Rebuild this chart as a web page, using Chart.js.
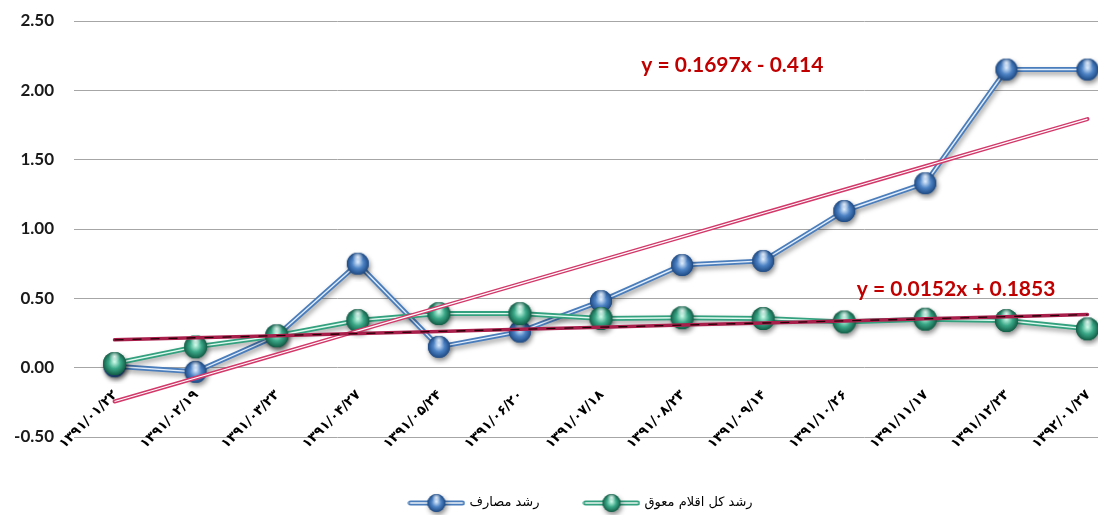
<!DOCTYPE html>
<html><head><meta charset="utf-8">
<script src="https://cdn.jsdelivr.net/npm/chart.js@4.4.1/dist/chart.umd.min.js"></script>
<style>
html,body{margin:0;padding:0;background:#fff;overflow:hidden;width:1098px;height:518px}
#wrap{position:relative;width:1140px;height:518px}
</style></head>
<body><div id="wrap"><canvas id="c" width="1140" height="518"></canvas></div>
<script>
// ---- data ----
const categories = ['۱۳۹۱/۰۱/۲۲','۱۳۹۱/۰۲/۱۹','۱۳۹۱/۰۳/۲۳','۱۳۹۱/۰۴/۲۷','۱۳۹۱/۰۵/۲۴','۱۳۹۱/۰۶/۲۰','۱۳۹۱/۰۷/۱۸','۱۳۹۱/۰۸/۲۳','۱۳۹۱/۰۹/۱۴','۱۳۹۱/۱۰/۲۶','۱۳۹۱/۱۱/۱۷','۱۳۹۱/۱۲/۲۳','۱۳۹۲/۰۱/۲۷'];
const expenseGrowth = [0.01,-0.03,0.23,0.75,0.15,0.26,0.48,0.74,0.77,1.13,1.33,2.15,2.15];
const overdueGrowth = [0.03,0.15,0.23,0.34,0.39,0.39,0.355,0.36,0.355,0.33,0.35,0.34,0.28];
const seriesNames = ['رشد مصارف','رشد کل اقلام معوق'];
const expenseTrend = {slope:0.1697, intercept:-0.414};
const overdueTrend = {slope:0.0152, intercept:0.1853};
const expenseEquation = 'y = 0.1697x - 0.414';
const overdueEquation = 'y = 0.0152x + 0.1853';
const yTickValues = [-0.5,0,0.5,1,1.5,2,2.5];

// trendline values (Excel linear trendline, x = 1..n)
const trendValues = t => categories.map((_, i) => t.slope * (i + 1) + t.intercept);

// ---- styles ----
const BLUE = '#4a7dbb', BLUE_L = '#d4e6fa', BLUE_D = '#1e4a84';
const GREEN = '#33a07e', GREEN_L = '#c4f7e4', GREEN_D = '#135e47';

function sphere(base, light, dark, r) {
  const pad = 7, s = 2 * r + pad * 2;
  const c = document.createElement('canvas'); c.width = s; c.height = s;
  const g = c.getContext('2d'); const cx = s / 2, cy = s / 2;
  g.save();
  g.shadowColor = 'rgba(0,0,0,0.45)'; g.shadowBlur = 5; g.shadowOffsetX = 1.5; g.shadowOffsetY = 3;
  g.beginPath(); g.arc(cx, cy, r, 0, Math.PI * 2); g.fillStyle = dark; g.fill();
  g.restore();
  const gr = g.createRadialGradient(cx, cy - r * 0.15, r * 0.05, cx, cy, r);
  gr.addColorStop(0, light); gr.addColorStop(0.5, base); gr.addColorStop(1, dark);
  g.beginPath(); g.arc(cx, cy, r, 0, Math.PI * 2); g.fillStyle = gr; g.fill();
  const sp = g.createRadialGradient(cx, cy - r * 0.6, 0, cx, cy - r * 0.6, r * 0.5);
  sp.addColorStop(0, 'rgba(255,255,255,0.85)'); sp.addColorStop(1, 'rgba(255,255,255,0)');
  g.beginPath(); g.arc(cx, cy, r, 0, Math.PI * 2); g.fillStyle = sp; g.fill();
  return c;
}
function legendIcon(color, sph) {
  const w = 58, h = 24;
  const c = document.createElement('canvas'); c.width = w; c.height = h;
  const g = c.getContext('2d');
  g.lineCap = 'round';
  g.strokeStyle = color; g.lineWidth = 5;
  g.beginPath(); g.moveTo(3, h / 2); g.lineTo(w - 3, h / 2); g.stroke();
  g.strokeStyle = 'rgba(255,255,255,0.9)'; g.lineWidth = 1.5;
  g.beginPath(); g.moveTo(3, h / 2); g.lineTo(w - 3, h / 2); g.stroke();
  g.drawImage(sph, (w - sph.width) / 2, (h - sph.height) / 2);
  return c;
}
const blueSphere = sphere('#4c82c4', BLUE_L, BLUE_D, 11);
const greenSphere = sphere('#3aa887', GREEN_L, GREEN_D, 11.5);
const blueIcon = legendIcon(BLUE, sphere('#4c82c4', BLUE_L, BLUE_D, 9));
const greenIcon = legendIcon(GREEN, sphere('#3aa887', GREEN_L, GREEN_D, 9));

const lineBase = {pointRadius: 0, pointHoverRadius: 0, tension: 0, fill: false, clip: false};

const shadowPlugin = {
  id: 'lineShadow',
  beforeDatasetDraw(chart, args) {
    const ds = chart.data.datasets[args.index];
    chart.ctx.save();
    if (ds._shadow) {
      chart.ctx.shadowColor = 'rgba(0,0,0,0.35)';
      chart.ctx.shadowBlur = 5; chart.ctx.shadowOffsetX = 1.5; chart.ctx.shadowOffsetY = 3;
    }
  },
  afterDatasetDraw(chart) { chart.ctx.restore(); }
};

// rotated category labels drawn at the category scale's tick positions
const xLabelPlugin = {
  id: 'xLabels',
  beforeDatasetsDraw(chart, args, opts) {
    const {ctx, scales: {x}, chartArea} = chart;
    ctx.save();
    ctx.font = opts.font; ctx.fillStyle = opts.color;
    ctx.textAlign = 'right'; ctx.textBaseline = 'top';
    categories.forEach((lab, i) => {
      ctx.save();
      ctx.translate(x.getPixelForValue(i) + opts.dx, chartArea.bottom + opts.dy);
      ctx.rotate(-Math.PI / 4);
      ctx.fillText(lab, 0, 0);
      ctx.restore();
    });
    ctx.restore();
  }
};

const equationPlugin = {
  id: 'equations',
  afterDatasetsDraw(chart, args, opts) {
    const {ctx, scales: {x, y}} = chart;
    ctx.save();
    ctx.font = opts.font; ctx.fillStyle = opts.color;
    ctx.textAlign = 'center'; ctx.textBaseline = 'middle';
    opts.items.forEach(it => ctx.fillText(it.text, x.getPixelForValue(it.x), y.getPixelForValue(it.y)));
    ctx.restore();
  }
};

const legendPlugin = {
  id: 'customLegend',
  afterDraw(chart, args, opts) {
    const ctx = chart.ctx;
    ctx.save();
    ctx.font = opts.font; ctx.fillStyle = opts.color;
    ctx.textBaseline = 'middle'; ctx.textAlign = 'left';
    const items = [{text: seriesNames[0], icon: blueIcon}, {text: seriesNames[1], icon: greenIcon}];
    const widths = items.map(it => it.icon.width + opts.iconGap + ctx.measureText(it.text).width);
    const total = widths.reduce((a, b) => a + b, 0) + opts.itemGap * (items.length - 1);
    let cx = opts.centerX - total / 2;
    items.forEach((it, i) => {
      ctx.drawImage(it.icon, cx, opts.centerY - it.icon.height / 2);
      ctx.fillText(it.text, cx + it.icon.width + opts.iconGap, opts.centerY);
      cx += widths[i] + opts.itemGap;
    });
    ctx.restore();
  }
};

new Chart(document.getElementById('c'), {
  type: 'line',
  data: {
    labels: categories,
    datasets: [
      Object.assign({}, lineBase, {label: seriesNames[0], data: expenseGrowth, borderColor: BLUE, borderWidth: 5, order: 20, _shadow: true}),
      Object.assign({}, lineBase, {data: expenseGrowth, borderColor: 'rgba(235,244,255,0.95)', borderWidth: 1.4, order: 19}),
      Object.assign({}, lineBase, {data: expenseGrowth, showLine: false, pointStyle: blueSphere, pointRadius: 11, order: 18}),
      Object.assign({}, lineBase, {label: seriesNames[1], data: overdueGrowth, borderColor: GREEN, borderWidth: 5, order: 17, _shadow: true}),
      Object.assign({}, lineBase, {data: overdueGrowth, borderColor: 'rgba(235,255,248,0.95)', borderWidth: 1.4, order: 16}),
      Object.assign({}, lineBase, {data: overdueGrowth, showLine: false, pointStyle: greenSphere, pointRadius: 11, order: 15}),
      Object.assign({}, lineBase, {data: trendValues(expenseTrend), borderColor: '#d2386a', borderWidth: 4, borderCapStyle: 'round', order: 4}),
      Object.assign({}, lineBase, {data: trendValues(expenseTrend), borderColor: '#ffffff', borderWidth: 1.2, order: 3}),
      Object.assign({}, lineBase, {data: trendValues(overdueTrend), borderColor: '#a81f4c', borderWidth: 3.5, borderCapStyle: 'round', order: 2}),
      Object.assign({}, lineBase, {data: trendValues(overdueTrend), borderColor: '#2a0008', borderWidth: 1.3, borderDash: [9, 9], order: 1})
    ]
  },
  options: {
    responsive: false,
    animation: false,
    devicePixelRatio: 1,
    events: [],
    layout: {padding: {left: 0, right: 10, top: 0, bottom: 0}},
    plugins: {
      tooltip: {enabled: false},
      legend: {display: false},
      xLabels: {font: "bold 13.5px 'DejaVu Sans'", color: '#000', dx: -4, dy: -49},
      customLegend: {font: "13px 'DejaVu Sans'", color: '#000', centerX: 580, centerY: 503, iconGap: 4, itemGap: 43},
      equations: {
        font: "bold 21px Lato", color: '#c00000',
        items: [
          {text: expenseEquation, x: 7.62, y: 2.18},
          {text: overdueEquation, x: 10.38, y: 0.567}
        ]
      }
    },
    scales: {
      x: {
        offset: true,
        grid: {display: false, drawTicks: false},
        border: {display: false},
        ticks: {display: false},
        afterFit(scale) { scale.height = 81; }
      },
      y: {
        min: -0.5, max: 2.5,
        afterBuildTicks(scale) { scale.ticks = yTickValues.map(v => ({value: v})); },
        grid: {color: '#a6a6a6', lineWidth: 1, drawTicks: false},
        border: {display: false},
        ticks: {
          padding: 20, color: '#1a1a1a',
          font: {family: 'Lato', size: 17, weight: 'bold'},
          callback: v => Number(v).toFixed(2)
        },
        afterFit(scale) { scale.width = 74; scale.paddingTop = 21; scale.paddingBottom = 0; }
      }
    }
  },
  plugins: [shadowPlugin, xLabelPlugin, equationPlugin, legendPlugin]
});
</script>
</body></html>
